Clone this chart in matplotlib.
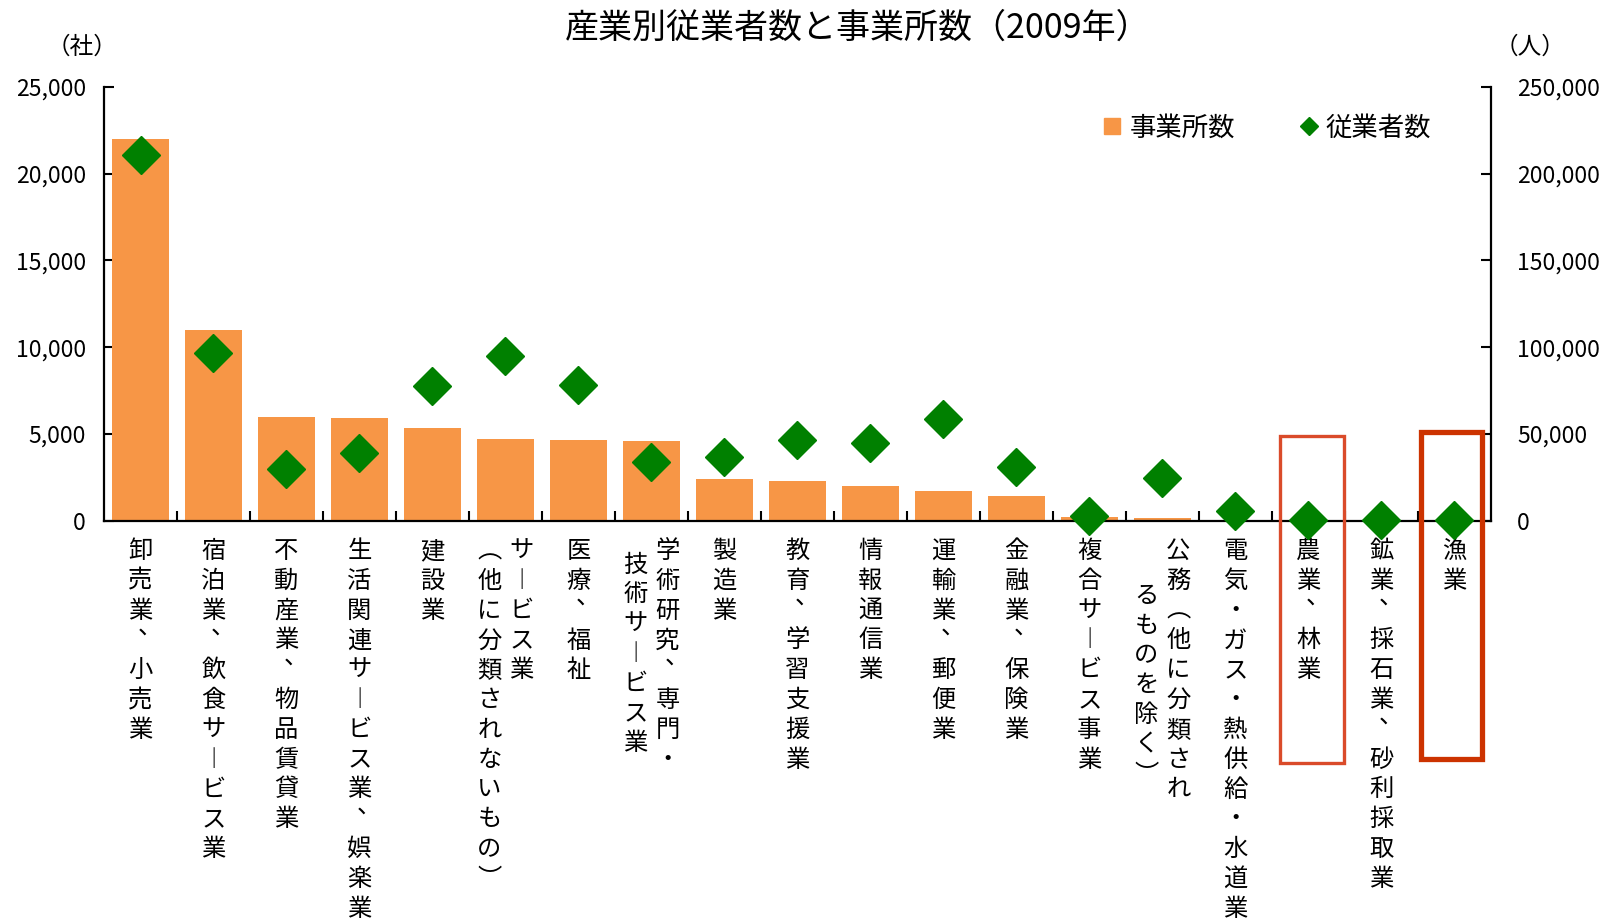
import matplotlib
matplotlib.use("Agg")
import matplotlib.pyplot as plt
import numpy as np
from matplotlib.lines import Line2D
from matplotlib.patches import Rectangle
from matplotlib.ticker import FuncFormatter, FixedLocator

plt.rcParams["font.family"] = ["Noto Sans CJK JP", "DejaVu Sans"]

# category labels, one string per vertical column (right column first)
label_columns = [
    ["卸売業、小売業"],
    ["宿泊業、飲食サービス業"],
    ["不動産業、物品賃貸業"],
    ["生活関連サービス業、娯楽業"],
    ["建設業"],
    ["サービス業", "（他に分類されないもの）"],
    ["医療、福祉"],
    ["学術研究、専門・", "技術サービス業"],
    ["製造業"],
    ["教育、学習支援業"],
    ["情報通信業"],
    ["運輸業、郵便業"],
    ["金融業、保険業"],
    ["複合サービス事業"],
    ["公務（他に分類され", "るものを除く）"],
    ["電気・ガス・熱供給・水道業"],
    ["農業、林業"],
    ["鉱業、採石業、砂利採取業"],
    ["漁業"],
]
establishments = [22000, 11000, 6000, 5900, 5320, 4680, 4620, 4570, 2370,
                  2310, 2020, 1680, 1445, 230, 170, 60, 20, 10, 5]
employees = [211000, 96500, 30000, 39000, 77500, 94800, 78400, 33500, 36800,
             46600, 44700, 58800, 31000, 2500, 24500, 5400, 600, 400, 150]
highlighted = [16, 18]

BAR_COLOR = "#F79646"
DOT_COLOR = "#008000"
CHAR_PITCH = 29.8
LABEL_TOP = 30.5
LABEL_SIZE = 17.5

# horizontal glyphs -> vertical presentation forms
VERTICAL_FORMS = {"ー": "︱", "（": "︵", "）": "︶"}

fig, ax = plt.subplots(figsize=(16.1, 9.22), dpi=100)
fig.subplots_adjust(left=0.0646, right=0.926, bottom=0.4354, top=0.9056)

x = np.arange(len(establishments))
ax.bar(x, establishments, width=0.78, color=BAR_COLOR, zorder=2)
ax.set_xlim(-0.5, len(x) - 0.5)
ax.set_ylim(0, 25000)
ax.yaxis.set_major_locator(FixedLocator(np.arange(0, 25001, 5000)))
ax.yaxis.set_major_formatter(FuncFormatter(lambda v, p: f"{int(v):,}"))
ax.set_xticks([])
ax.xaxis.set_minor_locator(FixedLocator(np.arange(0.5, len(x) - 0.5, 1)))
ax.tick_params(axis="x", which="minor", direction="in", length=7, width=1.5)
ax.tick_params(axis="y", direction="in", length=7, width=1.5, labelsize=16.5, pad=13)
for side in ["top", "right"]:
    ax.spines[side].set_visible(False)
for side in ["left", "bottom"]:
    ax.spines[side].set_linewidth(1.6)

ax2 = ax.twinx()
ax2.plot(x, employees, linestyle="none", marker="D", markersize=19,
         color=DOT_COLOR, zorder=3, clip_on=False)
ax2.set_ylim(0, 250000)
ax2.yaxis.set_major_locator(FixedLocator(np.arange(0, 250001, 50000)))
ax2.yaxis.set_major_formatter(FuncFormatter(lambda v, p: f"{int(v):,}"))
ax2.tick_params(axis="y", direction="in", length=7, width=1.5, labelsize=16.5, pad=19)
for side in ["top", "left", "bottom"]:
    ax2.spines[side].set_visible(False)
ax2.spines["right"].set_linewidth(1.6)


def draw_vertical(text, xpos, dx, start):
    for k, ch in enumerate(text):
        yoff = -(LABEL_TOP + (start + k) * CHAR_PITCH)
        ox, oy = 0, 0
        if ch == "、":
            ox, oy = 9, 14
        ax.annotate(VERTICAL_FORMS.get(ch, ch), xy=(xpos, 0),
                    xycoords=ax.get_xaxis_transform(),
                    xytext=(dx + ox, yoff + oy), textcoords="offset pixels",
                    ha="center", va="center", fontsize=LABEL_SIZE,
                    annotation_clip=False)


second_start = {5: 0, 7: 0.45, 14: 1.5}
for i, cols in enumerate(label_columns):
    if len(cols) == 1:
        draw_vertical(cols[0], i, 0, 0)
    else:
        draw_vertical(cols[0], i, 16, 0)
        draw_vertical(cols[1], i, -16, second_start[i])

box_styles = {16: ("#DA4B2A", 2.4, 0.05, 0.44, 0.195, -0.559),
              18: ("#CC3300", 3.8, -0.04, 0.42, 0.204, -0.550)}
for i in highlighted:
    color, lw, shift, half, top, bottom = box_styles[i]
    ax2.add_patch(Rectangle((i + shift - half, bottom), 2 * half, top - bottom,
                            transform=ax2.get_xaxis_transform(), fill=False,
                            edgecolor=color, linewidth=lw, clip_on=False, zorder=5))

fig.text(858 / 1610, 1 - 28 / 922, "産業別従業者数と事業所数（2009年）",
         ha="center", va="center", fontsize=24.5)
fig.text(82 / 1610, 1 - 47 / 922, "（社）", ha="center", va="center", fontsize=17)
fig.text(1530 / 1610, 1 - 47 / 922, "（人）", ha="center", va="center", fontsize=17)

handles = [
    Line2D([], [], linestyle="none", marker="s", markersize=11, color=BAR_COLOR),
    Line2D([], [], linestyle="none", marker="D", markersize=9, color=DOT_COLOR),
]
fig.legend(handles, ["事業所数", "従業者数"], loc="center left",
           bbox_to_anchor=(1103 / 1610, 1 - 128 / 922), ncol=2, frameon=False,
           fontsize=19, handlelength=0.7, handletextpad=0.3, columnspacing=2.45,
           borderpad=0, borderaxespad=0)

fig.savefig("out.png", dpi=100)
